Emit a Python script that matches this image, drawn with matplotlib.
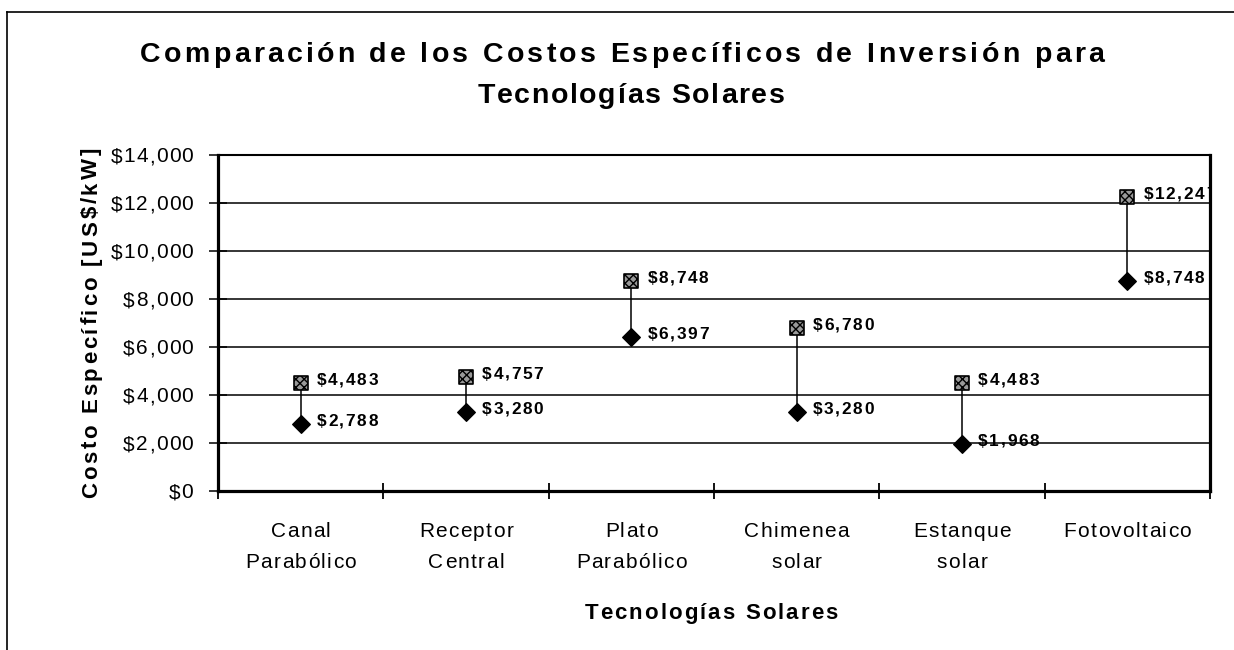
import matplotlib
matplotlib.use("Agg")
import matplotlib.pyplot as plt
from matplotlib.lines import Line2D
from matplotlib.transforms import IdentityTransform
from matplotlib.font_manager import FontProperties, findfont, get_font

# ---------------- data ----------------
categories = ["Canal\nParabólico", "Receptor\nCentral", "Plato\nParabólico",
              "Chimenea\nsolar", "Estanque\nsolar", "Fotovoltaico"]
cost_high = [4483, 4757, 8748, 6780, 4483, 12247]
cost_low = [2788, 3280, 6397, 3280, 1968, 8748]
yticks = [0, 2000, 4000, 6000, 8000, 10000, 12000, 14000]
title_lines = ["Comparación de los Costos Específicos de Inversión para",
               "Tecnologías Solares"]
xlabel = "Tecnologías Solares"
ylabel = "Costo Específico [US$/kW]"

W, H, DPI = 1234, 650, 100
FAMILY = 'Liberation Sans'
plt.rcParams['font.family'] = [FAMILY, 'DejaVu Sans']


def advances(s, size, weight):
    fp = FontProperties(family=FAMILY, weight=weight)
    font = get_font(findfont(fp))
    font.set_size(size, 72)
    return [font.load_char(ord(c)).linearHoriAdvance / 65536 * DPI / 72 for c in s]


def spaced(container, s, x, y, size, weight='normal', ha='left', gap=0.0,
           width=None, rotation=0, clip=False):
    """Letter-spaced text; x, y in image pixels (origin top-left), y = baseline."""
    adv = advances(s, size, weight)
    n = len(s)
    natural = sum(adv)
    if width is not None and n > 1:
        gap = (width - natural) / (n - 1)
    total = natural + gap * (n - 1)
    start = {'center': -total / 2, 'right': -total}.get(ha, 0.0)
    pos = start
    for c, a in zip(s, adv):
        if rotation == 0:
            px, py = x + pos, H - y
        else:
            px, py = x, H - y + pos
        if c != ' ':
            container.text(px, py, c, transform=IdentityTransform(), fontsize=size,
                           fontweight=weight, family=FAMILY, ha='left', va='baseline',
                           rotation=rotation, rotation_mode='anchor', clip_on=clip)
        pos += a + gap


fig = plt.figure(figsize=(W / DPI, H / DPI), dpi=DPI)
ax_l, ax_r, ax_t, ax_b = 218, 1210, 155, 491
ax = fig.add_axes([ax_l / W, 1 - ax_b / H, (ax_r - ax_l) / W, (ax_b - ax_t) / H])

x = list(range(len(categories)))
ax.set_xlim(-0.5, len(categories) - 0.5)
ax.set_ylim(0, 14000)

ax.vlines(x, cost_low, cost_high, color='black', lw=1.1, zorder=3)
ax.scatter(x, cost_low, marker='D', s=80, color='black', zorder=4)
ax.scatter(x, cost_high, marker='s', s=100, facecolor='#999999', edgecolor='black',
           hatch='xxxx', linewidths=1.2, zorder=4)

ax.set_yticks(yticks)
ax.set_yticklabels([])
ax.grid(axis='y', color='black', lw=1.1)
ax.set_axisbelow(True)
ax.set_xticks([i - 0.5 for i in range(len(categories) + 1)])
ax.set_xticklabels([])
ax.tick_params(axis='x', length=12, width=1.3, direction='inout')
ax.tick_params(axis='y', length=13, width=1.1, direction='inout')
for s in ['left', 'bottom', 'right']:
    ax.spines[s].set_linewidth(2.3)
ax.spines['top'].set_linewidth(1.5)

# data labels
for xi, lo, hi in zip(x, cost_low, cost_high):
    for v in (hi, lo):
        xd, yd = ax.transData.transform((xi, v))
        spaced(ax, f"${v:,}", xd + 16, (H - yd) + 2, 12.4, weight='bold', gap=1.7, clip=True)

# y tick labels
for v in yticks:
    _, yd = ax.transData.transform((0, v))
    spaced(fig, f"${v:,}", 193, (H - yd) + 7.5, 15, ha='right', gap=1.2)

# x tick labels
for i, cat in enumerate(categories):
    xd, _ = ax.transData.transform((i, 0))
    for line, base in zip(cat.split('\n'), [537, 568]):
        spaced(fig, line, xd, base, 15, ha='center', gap=1.4)

# axis labels
spaced(fig, xlabel, 711, 619, 16, weight='bold', ha='center', width=253)
spaced(fig, ylabel, 97, 323, 16, weight='bold', ha='center', width=350, rotation=90)

# title
spaced(fig, title_lines[0], 622, 62, 20.5, weight='bold', ha='center', width=964)
spaced(fig, title_lines[1], 631, 103, 20.5, weight='bold', ha='center', width=307)

# outer frame
fig.add_artist(Line2D([7 / W, 1.0], [1 - 12 / H, 1 - 12 / H], transform=fig.transFigure,
                      color='black', lw=1.2))
fig.add_artist(Line2D([7 / W, 7 / W], [0.0, 1 - 12 / H], transform=fig.transFigure,
                      color='black', lw=1.2))

fig.savefig("out.png", dpi=DPI)
